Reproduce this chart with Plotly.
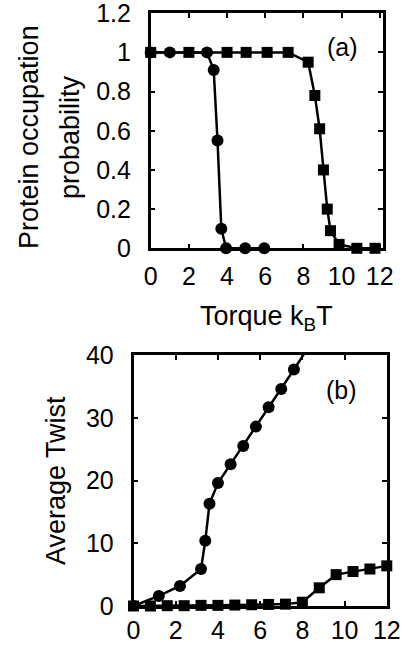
import plotly.graph_objects as go

# ---- data panel (a): protein occupation probability vs torque ----
a_circ_x = [0, 1.0, 2.95, 3.3, 3.5, 3.7, 3.95, 4.95, 5.95]
a_circ_y = [1, 1, 1, 0.91, 0.55, 0.10, 0.0, 0.0, 0.0]
a_sq_x = [0, 2.0, 4.0, 5.0, 6.1, 7.2, 8.25, 8.6, 8.85, 9.05, 9.25, 9.42, 9.87, 10.8, 11.75]
a_sq_y = [1, 1, 1, 1, 1, 1, 0.95, 0.78, 0.61, 0.40, 0.20, 0.09, 0.02, 0.0, 0.0]

# ---- data panel (b): average twist vs torque ----
b_circ_x = [0, 1.2, 2.2, 3.2, 3.4, 3.6, 4.0, 4.6, 5.2, 5.8, 6.4, 7.0, 7.6, 8.2]
b_circ_y = [0, 1.6, 3.2, 5.9, 10.4, 16.3, 19.6, 22.6, 25.5, 28.6, 31.7, 34.6, 37.7, 40.8]
b_sq_x = [0, 0.8, 1.6, 2.4, 3.2, 4.0, 4.8, 5.6, 6.4, 7.2, 8.0, 8.8, 9.6, 10.4, 11.2, 12.0]
b_sq_y = [0, 0, 0.05, 0.05, 0.1, 0.1, 0.15, 0.2, 0.25, 0.3, 0.6, 2.9, 5.0, 5.5, 5.9, 6.4]

a_xticks = [0, 2, 4, 6, 8, 10, 12]
a_yticks = [0, 0.2, 0.4, 0.6, 0.8, 1, 1.2]
a_ytext = ["0", "0.2", "0.4", "0.6", "0.8", "1", "1.2"]
b_xticks = [0, 2, 4, 6, 8, 10, 12]
b_yticks = [0, 10, 20, 30, 40]

W, H = 406, 654
FONT = "Liberation Sans, Arial, Helvetica, sans-serif"

def px(x):
    return x / W

def py(y):
    return 1 - y / H

fig = go.Figure()
line = dict(color="black", width=2.5)

fig.add_trace(go.Scatter(x=a_circ_x, y=a_circ_y, mode="lines+markers", line=line,
                         marker=dict(symbol="circle", size=12, color="black"),
                         xaxis="x", yaxis="y", cliponaxis=False, showlegend=False))
fig.add_trace(go.Scatter(x=a_sq_x, y=a_sq_y, mode="lines+markers", line=line,
                         marker=dict(symbol="square", size=11, color="black"),
                         xaxis="x", yaxis="y", cliponaxis=False, showlegend=False))
fig.add_trace(go.Scatter(x=b_circ_x, y=b_circ_y, mode="lines+markers", line=line,
                         marker=dict(symbol="circle", size=12, color="black"),
                         xaxis="x2", yaxis="y2", cliponaxis=True, showlegend=False))
fig.add_trace(go.Scatter(x=b_sq_x, y=b_sq_y, mode="lines+markers", line=line,
                         marker=dict(symbol="square", size=11, color="black"),
                         xaxis="x2", yaxis="y2", cliponaxis=False, showlegend=False))

ax_common = dict(showline=True, linecolor="black", linewidth=2.5, mirror="allticks",
                 ticks="inside", ticklen=5, tickwidth=2, tickcolor="black",
                 showgrid=False, zeroline=False, automargin=False, ticklabeloverflow="allow",
                 tickfont=dict(family=FONT, size=25, color="black"))

fig.update_layout(
    width=W, height=H, margin=dict(l=0, r=0, t=0, b=0, autoexpand=False),
    paper_bgcolor="white", plot_bgcolor="white",
    xaxis=dict(domain=[px(150.7), px(383)], range=[0, 12.17], tickvals=a_xticks,
               anchor="y", ticklabelstandoff=4, **ax_common),
    yaxis=dict(domain=[py(248.3), py(13)], range=[0, 1.201], tickvals=a_yticks,
               ticktext=a_ytext, anchor="x", ticklabelstandoff=12, **ax_common),
    xaxis2=dict(domain=[px(133.5), px(387)], range=[0, 12.01], tickvals=b_xticks,
                anchor="y2", ticklabelstandoff=0, **ax_common),
    yaxis2=dict(domain=[py(606), py(355)], range=[0, 40.02], tickvals=b_yticks,
                anchor="x2", ticklabelstandoff=12, **ax_common),
)

title_font = dict(family=FONT, size=27, color="black")
fig.add_annotation(text="Protein occupation", x=px(29), y=py(137), xref="paper", yref="paper",
                   textangle=-90, showarrow=False, font=title_font, xanchor="center", yanchor="middle")
fig.add_annotation(text="probability", x=px(70), y=py(137), xref="paper", yref="paper",
                   textangle=-90, showarrow=False, font=title_font, xanchor="center", yanchor="middle")
fig.add_annotation(text="Torque k<sub>B</sub>T", x=px(266.5), y=py(318), xref="paper", yref="paper",
                   showarrow=False, font=title_font, xanchor="center", yanchor="middle")
fig.add_annotation(text="Average Twist", x=px(56), y=py(481), xref="paper", yref="paper",
                   textangle=-90, showarrow=False, font=title_font, xanchor="center", yanchor="middle")
fig.add_annotation(text="(a)", x=px(342), y=py(47), xref="paper", yref="paper",
                   showarrow=False, font=dict(family=FONT, size=25, color="black"),
                   xanchor="center", yanchor="middle")
fig.add_annotation(text="(b)", x=px(341), y=py(390), xref="paper", yref="paper",
                   showarrow=False, font=dict(family=FONT, size=25, color="black"),
                   xanchor="center", yanchor="middle")

fig.write_html("out.html", config={"displayModeBar": False},
               post_script="document.body.style.margin='0';document.body.style.overflow='hidden';")
